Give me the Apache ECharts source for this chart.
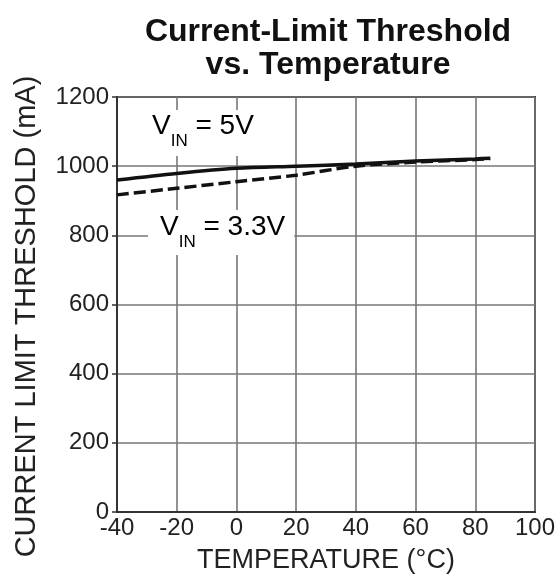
<!DOCTYPE html>
<html>
<head>
<meta charset="utf-8">
<script src="https://cdn.jsdelivr.net/npm/echarts@6/dist/echarts.min.js"></script>
<style>
html,body{margin:0;padding:0;background:#fff;}
#chart{width:558px;height:578px;}
</style>
</head>
<body>
<div id="chart"></div>
<script>
// Data
const temps = [-40, -20, 0, 20, 40, 60, 80, 85];
const current5V = [960, 979, 994, 1000, 1006, 1015, 1021, 1023];
const current3V3 = [917, 936, 955, 974, 1000, 1012, 1019, 1022];
const xTicks = [-40, -20, 0, 20, 40, 60, 80, 100];
const yTicks = [0, 200, 400, 600, 800, 1000, 1200];

const FONT = '"Liberation Sans", Arial, Helvetica, sans-serif';
const chart = echarts.init(document.getElementById('chart'), null, {renderer: 'canvas'});

const pairs = (xs, ys) => xs.map((x, i) => [x, ys[i]]);

const option = {
  animation: false,
  backgroundColor: '#fff',
  title: {
    text: 'Current-Limit Threshold\nvs. Temperature',
    left: 323, top: 11, textAlign: 'center',
    textStyle: {fontFamily: FONT, fontWeight: 'bold', fontSize: 32, lineHeight: 33, color: '#111'}
  },
  grid: {left: 117, right: 23, top: 97, bottom: 66, outerBoundsMode: 'none', containLabel: false,
    show: true, borderColor: '#333', borderWidth: 2, backgroundColor: 'transparent'},
  xAxis: {
    type: 'value', min: xTicks[0], max: xTicks[xTicks.length - 1], interval: 20,
    name: 'TEMPERATURE (°C)', nameLocation: 'middle', nameGap: 35,
    nameTextStyle: {fontFamily: FONT, fontSize: 27, color: '#222'},
    axisLine: {show: true, onZero: false, lineStyle: {color: '#333', width: 2}},
    axisTick: {show: false},
    axisLabel: {fontFamily: FONT, fontSize: 24, color: '#222', margin: 4, formatter: v => String(v)},
    splitLine: {show: true, lineStyle: {color: '#777', width: 1.6}}
  },
  yAxis: {
    type: 'value', min: yTicks[0], max: yTicks[yTicks.length - 1], interval: 200,
    name: 'CURRENT LIMIT THRESHOLD (mA)', nameLocation: 'middle', nameGap: 76,
    nameTextStyle: {fontFamily: FONT, fontSize: 29, color: '#222', padding: [0, 24, 0, 0]},
    axisLine: {show: true, onZero: false, lineStyle: {color: '#333', width: 2}},
    axisTick: {show: true, inside: false, length: 5, lineStyle: {color: '#333', width: 1.5}},
    axisLabel: {fontFamily: FONT, fontSize: 24, color: '#222', margin: 8, padding: [0, 0, 6, 0], formatter: v => String(v)},
    splitLine: {show: true, lineStyle: {color: '#777', width: 1.6}}
  },
  series: [
    {
      name: 'VIN = 5V', type: 'line', data: pairs(temps, current5V),
      showSymbol: false, smooth: 0.3, z: 5,
      lineStyle: {color: '#111', width: 3.5, type: 'solid'}
    },
    {
      name: 'VIN = 3.3V', type: 'line', data: pairs(temps, current3V3),
      showSymbol: false, smooth: 0.3, z: 4,
      lineStyle: {color: '#111', width: 3.5, type: [12, 5]}
    }
  ],
  graphic: [
    {
      type: 'text', left: 146, top: 110, z: 50,
      style: {
        text: '{v|V}{s|IN}{v| = 5V}',
        backgroundColor: '#fff', padding: [2, 6, 6, 6],
        rich: {
          v: {fontFamily: FONT, fontSize: 28, color: '#222', lineHeight: 30, verticalAlign: 'top'},
          s: {fontFamily: FONT, fontSize: 17, color: '#222', lineHeight: 38, verticalAlign: 'bottom'}
        }
      }
    },
    {
      type: 'text', left: 148, top: 210, z: 50,
      style: {
        text: '{v|V}{s|IN}{v| = 3.3V}',
        backgroundColor: '#fff', padding: [3, 9, 4, 12],
        rich: {
          v: {fontFamily: FONT, fontSize: 28, color: '#222', lineHeight: 30, verticalAlign: 'top'},
          s: {fontFamily: FONT, fontSize: 17, color: '#222', lineHeight: 38, verticalAlign: 'bottom'}
        }
      }
    }
  ]
};
chart.setOption(option);
</script>
</body>
</html>
